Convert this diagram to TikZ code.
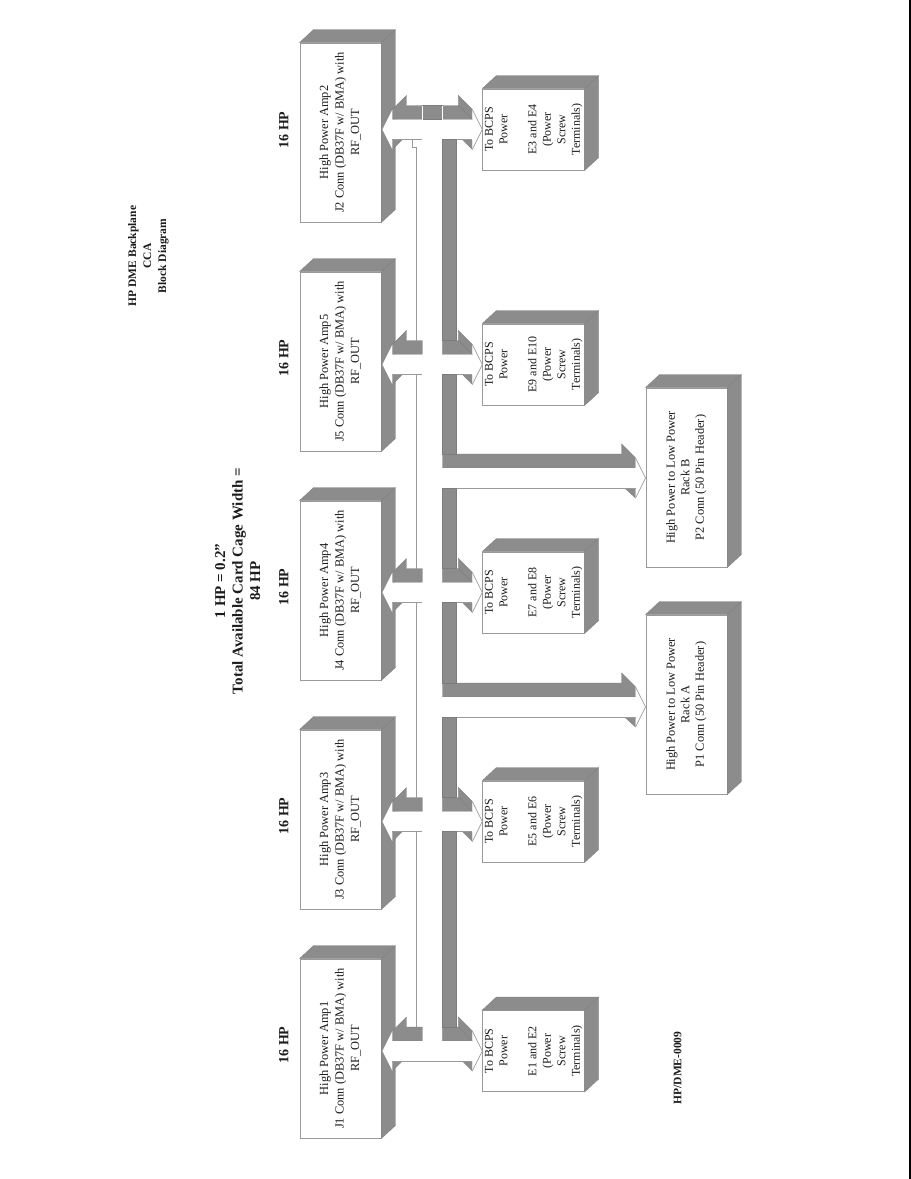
\documentclass[tikz,border=0pt]{standalone}
\usepackage{fontspec}
\usepackage{graphicx}
\setmainfont{Liberation Serif}
\usetikzlibrary{calc}
\definecolor{shade}{HTML}{8C8C8C}
\definecolor{shadeline}{HTML}{7C7C7C}
\definecolor{edge}{HTML}{9A9A9A}
\definecolor{ink}{HTML}{1C1C1C}
\newcommand{\rtext}[3]{\rotatebox{90}{\fontsize{#1}{#2}\selectfont\begin{tabular}{@{}c@{}}#3\end{tabular}}}
\newcommand{\depth}[1]{%
  \path[shadefill] (#1.north west) -- ++(14,-13) -- ($(#1.north east)+(14,-13)$) -- ($(#1.south east)+(14,-13)$) -- (#1.south east) -- (#1.north east) -- cycle;
  \draw[edgeline] (#1.north east) -- ($(#1.north east)+(14,-13)$);
}
\newcommand{\amparrow}[2]{%
  \coordinate (#2L) at (#1.east |- #2.west);
  \coordinate (#2R) at (#2.west);
  \coordinate (#2up) at ($(#2L)+(35,-24)$);
  \coordinate (#2dn) at ($(#2L)+(35,10)$);
  \coordinate (#2gu) at ($(#2R)+(-40,-24)$);
  \coordinate (#2gd) at ($(#2R)+(-40,10)$);
  \path[shadefill] ($(#2L)+(11,-20)$) -- ($(#2L)+(25,-34)$) -- ($(#2L)+(25,-24)$) -- ($(#2R)+(-60,-24)$) -- ($(#2R)+(-60,-10)$) -- ($(#2L)+(11,-10)$) -- cycle;
  \path[shadefill] ($(#2R)+(-24,-34)$) -- ($(#2R)+(-10,-20)$) -- ($(#2R)+(-10,-10)$) -- ($(#2R)+(-40,-10)$) -- ($(#2R)+(-40,-24)$) -- ($(#2R)+(-24,-24)$) -- cycle;
  \path[shadefill] ($(#2L)+(11,20)$) -- ($(#2L)+(11,10)$) -- ($(#2L)+(21,10)$) -- cycle;
  \path[shadefill] ($(#2R)+(-20,10)$) -- ($(#2R)+(-10,10)$) -- ($(#2R)+(-10,20)$) -- cycle;
  \fill[white] ($(#2L)+(1,0)$) -- ($(#2L)+(11,-20)$) -- ($(#2L)+(11,-10)$) -- ($(#2R)+(-10,-10)$) -- ($(#2R)+(-10,-20)$) -- (#2R) -- ($(#2R)+(-10,20)$) -- ($(#2R)+(-10,10)$) -- ($(#2L)+(11,10)$) -- ($(#2L)+(11,20)$) -- cycle;
  \draw[thinline] ($(#2R)+(-10,-20)$) -- (#2R) -- ($(#2R)+(-10,20)$);
  \draw[thinline] ($(#2L)+(11,10)$) -- ($(#2R)+(-60,10)$);
  \draw[thinline] ($(#2R)+(-40,10)$) -- ($(#2R)+(-10,10)$);
  \draw[edgeline] ($(#2R)+(-24,-24)$) -- ($(#2R)+(-10,-10)$);
}
\newcommand{\branch}[2]{%
  \coordinate (#1R) at ($(#1.west)+(0,#2)$);
  \path[shadefill] ($(#1R)+(-203,-24)$) -- ($(#1R)+(-24,-24)$) -- ($(#1R)+(-24,-34)$) -- ($(#1R)+(-10,-20)$) -- ($(#1R)+(-10,-10)$) -- ($(#1R)+(-203,-10)$) -- cycle;
  \path[shadefill] ($(#1R)+(-21,10)$) -- ($(#1R)+(-10,10)$) -- ($(#1R)+(-10,20)$) -- cycle;
  \fill[white] ($(#1R)+(-203,-10)$) -- ($(#1R)+(-10,-10)$) -- ($(#1R)+(-10,-20)$) -- (#1R) -- ($(#1R)+(-10,20)$) -- ($(#1R)+(-10,10)$) -- ($(#1R)+(-203,10)$) -- cycle;
  \draw[thinline] ($(#1R)+(-10,-20)$) -- (#1R) -- ($(#1R)+(-10,20)$);
  \draw[thinline] ($(#1R)+(-203,10)$) -- ($(#1R)+(-10,10)$);
  \coordinate (#1up) at ($(#1R)+(-203,-24)$);
  \coordinate (#1dn) at ($(#1R)+(-203,10)$);
}
\newcommand{\busbar}[2]{\path[shadefill] (#1) rectangle ($(#2)+(14,0)$);}
\tikzset{
  x=1pt,y=-1pt,
  shadefill/.style={fill=shade,draw=shadeline,line width=0.3pt},
  edgeline/.style={draw=shadeline,line width=0.3pt},
  thinline/.style={draw=edge,line width=0.7pt},
  busline/.style={draw=edge,line width=1pt},
  block/.style={draw=edge,line width=0.9pt,fill=white,inner sep=0pt,text=ink},
  ampbox/.style={block,minimum width=81pt,minimum height=179pt},
  psubox/.style={block,minimum width=101pt,minimum height=81pt},
  rackbox/.style={block,minimum width=81pt,minimum height=179pt},
  plain/.style={inner sep=0pt,text=ink},
}
\begin{document}
\begin{tikzpicture}
\useasboundingbox (0,0) rectangle (911,1179);
\fill[white] (0,0) rectangle (911,1179);
\coordinate (frameA) at (910,0);
\coordinate (frameB) at (910,1179);
\draw[black,line width=1.6pt] (frameA) -- (frameB);

% headings
\node[plain] (title) at (148,256) {\rtext{11.5}{15}{\bfseries HP DME Backplane\\\bfseries CCA\\\bfseries Block Diagram}};
\node[plain] (width) at (239,581) {\rtext{15}{17.5}{\bfseries 1 HP = 0.2"\\\bfseries Total Available Card Cage Width =\\\bfseries 84 HP}};
\node[plain] (docno) at (679,1068) {\rtext{11.5}{12}{\bfseries HP/DME-0009}};
\node[plain] (hp2) at (285,130) {\rtext{14}{17}{\bfseries 16 HP}};
\node[plain] (hp5) at (285,358) {\rtext{14}{17}{\bfseries 16 HP}};
\node[plain] (hp4) at (285,587) {\rtext{14}{17}{\bfseries 16 HP}};
\node[plain] (hp3) at (285,816) {\rtext{14}{17}{\bfseries 16 HP}};
\node[plain] (hp1) at (285,1045) {\rtext{14}{17}{\bfseries 16 HP}};

% amplifier cards
\node[ampbox] (j2) at (340.5,132.5) {\rtext{12.4}{15.5}{High Power Amp2\\J2 Conn (DB37F w/ BMA) with\\RF\_OUT}};
\node[ampbox] (j5) at (340.5,361.5) {\rtext{12.4}{15.5}{High Power Amp5\\J5 Conn (DB37F w/ BMA) with\\RF\_OUT}};
\node[ampbox] (j4) at (340.5,590.5) {\rtext{12.4}{15.5}{High Power Amp4\\J4 Conn (DB37F w/ BMA) with\\RF\_OUT}};
\node[ampbox] (j3) at (340.5,819.5) {\rtext{12.4}{15.5}{High Power Amp3\\J3 Conn (DB37F w/ BMA) with\\RF\_OUT}};
\node[ampbox] (j1) at (340.5,1048.5) {\rtext{12.4}{15.5}{High Power Amp1\\J1 Conn (DB37F w/ BMA) with\\RF\_OUT}};

% power terminals
\node[psubox] (e3) at (533.5,129.5) {\rtext{12}{14.5}{To BCPS\\Power\\[14.5pt]E3 and E4\\(Power\\Screw\\Terminals)}};
\node[psubox] (e9) at (533.5,364.5) {\rtext{12}{14.5}{To BCPS\\Power\\[14.5pt]E9 and E10\\(Power\\Screw\\Terminals)}};
\node[psubox] (e7) at (533.5,592.5) {\rtext{12}{14.5}{To BCPS\\Power\\[14.5pt]E7 and E8\\(Power\\Screw\\Terminals)}};
\node[psubox] (e5) at (533.5,821.5) {\rtext{12}{14.5}{To BCPS\\Power\\[14.5pt]E5 and E6\\(Power\\Screw\\Terminals)}};
\node[psubox] (e1) at (533.5,1051) {\rtext{12}{14.5}{To BCPS\\Power\\[14.5pt]E1 and E2\\(Power\\Screw\\Terminals)}};

% low power racks
\node[rackbox] (p2) at (686.5,477.5) {\rtext{12.4}{14.5}{High Power to Low Power\\Rack B\\P2 Conn (50 Pin Header)}};
\node[rackbox] (p1) at (686.5,704.5) {\rtext{12.4}{14.5}{High Power to Low Power\\Rack A\\P1 Conn (50 Pin Header)}};

\foreach \n in {j2,j5,j4,j3,j1,e3,e9,e7,e5,e1,p2,p1}{\depth{\n}}

% block arrows
\amparrow{j2}{e3}
\amparrow{j5}{e9}
\amparrow{j4}{e7}
\amparrow{j3}{e5}
\amparrow{j1}{e1}
\branch{p2}{0.5}
\branch{p1}{2.5}

% closed ends of the bus
\path[shadefill] ($(e3R)+(-60,-24)$) rectangle ($(e3R)+(-40,-10)$);
\draw[white,line width=0.7pt] ($(e3R)+(-60,-24)$) -- ($(e3R)+(-60,-10)$);
\draw[white,line width=0.7pt] ($(e3R)+(-40,-24)$) -- ($(e3R)+(-40,-10)$);
\draw[thinline] ($(e1R)+(-60,10)$) -- ($(e1R)+(-40,10)$);

% bus bars
\busbar{e3gd}{e9gu}
\busbar{e9gd}{p2up}
\busbar{p2dn}{e7gu}
\busbar{e7gd}{p1up}
\busbar{p1dn}{e5gu}
\busbar{e5gd}{e1gu}
\draw[busline] (e3dn) -- ++(-4,0) -- ++(0,8) -- ++(4,0) -- (e9up);
\draw[busline] (e9dn) -- (e7up);
\draw[busline] (e7dn) -- (e5up);
\draw[busline] (e5dn) -- (e1up);
\end{tikzpicture}
\end{document}
